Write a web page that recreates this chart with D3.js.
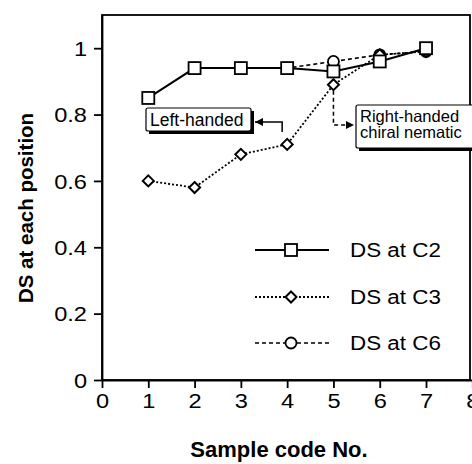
<!DOCTYPE html>
<html><head><meta charset="utf-8">
<script src="https://cdn.jsdelivr.net/npm/d3@7"></script>
<style>body{margin:0;background:#fff}svg{display:block}text{font-family:"Liberation Sans",Arial,sans-serif}</style>
</head><body><svg id="c" width="472" height="464"></svg>
<script>
const samples = [1,2,3,4,5,6,7];
const dsC2 = [0.85,0.94,0.94,0.94,0.93,0.96,1.00];
const dsC3 = [0.60,0.58,0.68,0.71,0.89,0.98,0.99];
const samplesC6 = [2,3,4,5,6,7];
const dsC6 = [0.94,0.94,0.94,0.96,0.98,0.99];
const xTicks = [0,1,2,3,4,5,6,7,8];
const yTicks = [0,0.2,0.4,0.6,0.8,1];
const seriesNames = ["DS at C2","DS at C3","DS at C6"];

const svg = d3.select("#c");
const L=102,R=470,T=15,B=380;
const x = d3.scaleLinear().domain([0,8]).range([L,L+(R-L)*8/7.95]);
const y = d3.scaleLinear().domain([0,1.1]).range([B,T]);

function stretch(sel,k){sel.each(function(){const w=this.getComputedTextLength();
  d3.select(this).attr("textLength",w*k).attr("lengthAdjust","spacingAndGlyphs");});}

svg.append("rect").attr("x",L).attr("y",T).attr("width",R-L).attr("height",B-T)
  .attr("fill","none").attr("stroke","#000").attr("stroke-width",1.8);

const xa = svg.append("g").attr("transform",`translate(0,${B})`)
  .call(d3.axisBottom(x).tickValues(xTicks).tickFormat(d3.format("d")).tickSize(8).tickSizeOuter(0));
const ya = svg.append("g").attr("transform",`translate(${L},0)`)
  .call(d3.axisLeft(y).tickValues(yTicks).tickFormat(d=>d===0?"0":d===1?"1":d3.format(".1f")(d)).tickSize(8).tickSizeOuter(0));
[xa,ya].forEach(a=>{a.select(".domain").attr("stroke-width",1.8);a.selectAll("line").attr("stroke-width",1.8);
  a.selectAll("text").attr("font-size",20).attr("fill","#000").attr("font-family",'"Liberation Sans",Arial,sans-serif');});
xa.selectAll("text").attr("y",28).attr("dy",0);
ya.selectAll("text").attr("x",-15).attr("dy","0.36em");
stretch(xa.selectAll("text"),1.18);
stretch(ya.selectAll("text"),1.18);

svg.append("text").attr("x",279).attr("y",457).attr("text-anchor","middle")
  .attr("font-size",22).attr("font-weight","bold").text("Sample code No.");
svg.append("text").attr("transform","translate(33,208) rotate(-90)").attr("text-anchor","middle")
  .attr("font-size",20.5).attr("font-weight","bold").text("DS at each position");

const line = d3.line().x(d=>x(d[0])).y(d=>y(d[1]));
const d2 = samples.map((s,i)=>[s,dsC2[i]]);
const d3s = samples.map((s,i)=>[s,dsC3[i]]);
const d6 = samplesC6.map((s,i)=>[s,dsC6[i]]);

function drawSeries(data,dash,w,marker){
  svg.append("path").attr("d",line(data)).attr("fill","none").attr("stroke","#000")
    .attr("stroke-width",w).attr("stroke-dasharray",dash);
  data.forEach(p=>marker(x(p[0]),y(p[1])));
}
const circ=(cx,cy)=>svg.append("circle").attr("cx",cx).attr("cy",cy).attr("r",5.5).attr("fill","#fff").attr("stroke","#000").attr("stroke-width",1.8);
const diam=(cx,cy)=>svg.append("path").attr("d",`M${cx},${cy-5.5}L${cx+5.5},${cy}L${cx},${cy+5.5}L${cx-5.5},${cy}Z`).attr("fill","#fff").attr("stroke","#000").attr("stroke-width",2);
const sq=(cx,cy)=>svg.append("rect").attr("x",cx-6).attr("y",cy-6).attr("width",12).attr("height",12).attr("fill","#fff").attr("stroke","#000").attr("stroke-width",1.8);

drawSeries(d6,"4,3",1.6,circ);
drawSeries(d3s,"2,2",1.8,diam);
drawSeries(d2,null,2,sq);

function box(x0,y0,w,h,lines,base,step,fs){
  svg.append("rect").attr("x",x0+3).attr("y",y0+3).attr("width",w).attr("height",h).attr("fill","#000");
  svg.append("rect").attr("x",x0).attr("y",y0).attr("width",w).attr("height",h).attr("fill","#fff").attr("stroke","#000").attr("stroke-width",1.2).attr("rx",2);
  lines.forEach((t,i)=>svg.append("text").attr("x",x0+4).attr("y",y0+base+i*step).attr("font-size",fs).text(t));
}
box(146,108,105,23,["Left-handed"],18,0,17.5);
box(356,105,120,43,["Right-handed","chiral nematic"],17,16,16.5);

const defs=svg.append("defs");
defs.append("marker").attr("id","ah").attr("viewBox","0 0 10 10").attr("refX",10).attr("refY",5)
  .attr("markerWidth",12).attr("markerHeight",8).attr("markerUnits","userSpaceOnUse").attr("orient","auto")
  .append("path").attr("d","M0,0L10,5L0,10Z").attr("fill","#000");
svg.append("path").attr("d",`M${x(4)-5},132V122H255`).attr("fill","none").attr("stroke","#000").attr("stroke-width",1.5).attr("marker-end","url(#ah)");
svg.append("path").attr("d",`M${x(5)},${y(dsC3[4])+6}V125H354`).attr("fill","none").attr("stroke","#000").attr("stroke-width",1.5).attr("stroke-dasharray","4,3").attr("marker-end","url(#ah)");

const legY=[250,297,343], lx0=255,lx1=329,mx=291;
const legDash=[null,"2,2","4,3"], legMark=[sq,diam,circ], legW=[2,1.8,1.6];
seriesNames.forEach((n,i)=>{
  svg.append("line").attr("x1",lx0).attr("x2",lx1).attr("y1",legY[i]).attr("y2",legY[i]).attr("stroke","#000").attr("stroke-width",legW[i]).attr("stroke-dasharray",legDash[i]);
  legMark[i](mx,legY[i]);
  const t=svg.append("text").attr("x",350).attr("y",legY[i]+7).attr("font-size",20).text(n);
  stretch(t,1.12);
});
</script></body></html>
